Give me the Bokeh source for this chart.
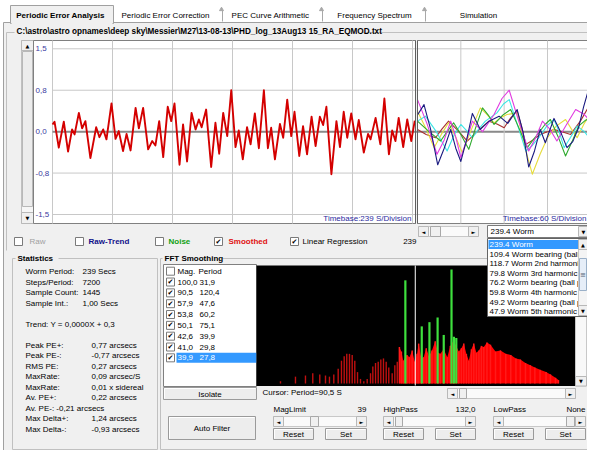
from bokeh.plotting import figure
from bokeh.plotting.glyph_api import GlyphAPI
from bokeh.models import Range1d, LogScale, LinearScale
from bokeh.models.coordinates import CoordinateMapping
from bokeh.core.properties import value
from bokeh.embed import file_html
from bokeh.resources import INLINE

# ---------------- data ----------------
# smoothed periodic error (time s, arcsec)
pe_time = [0, 8, 25, 45, 62, 78, 88, 105, 118, 131, 151, 174, 187, 202, 215, 235, 251, 264, 281, 295,
           311, 331, 344, 361, 381, 397, 410, 425, 441, 459, 473, 486, 506, 520, 536, 554, 570, 583, 594, 612,
           632, 649, 664, 680, 696, 712, 729, 742, 758, 775, 789, 806, 822, 842, 858, 871, 886, 906, 919, 935,
           951, 964, 983, 998, 1014, 1032, 1048, 1065, 1078, 1091, 1111, 1131, 1145, 1160, 1174, 1190, 1207, 1220, 1240, 1257,
           1267, 1287, 1306, 1322, 1340, 1353, 1366, 1379, 1397, 1413, 1429, 1443]
pe_value = [0.13, 0.18, -0.29, 0.18, -0.36, 0.04, -0.05, 0.34, 0.06, 0.19, -0.48, 0.08, -0.10, 0.04, -0.14, 0.51, -0.13, 0.01, -0.35, -0.04,
            -0.34, 0.43, 0.06, 0.43, -0.32, -0.17, -0.25, 0.19, -0.46, 0.45, 0.19, 0.51, -0.60, 0.13, -0.54, 0.34, 0.04, 0.22, 0.08, 0.40,
            -0.64, 0.16, -0.40, 0.34, -0.08, 0.75, -0.28, 0.02, -0.50, 0.08, -0.23, 0.33, -0.30, 0.75, -0.30, 0.07, -0.50, 0.14, -0.11, 0.58,
            -0.08, 0.36, -0.44, 0.10, -0.41, 0.27, -0.26, 0.27, 0.12, 0.45, -0.77, 0.19, -0.28, 0.36, -0.11, 0.33, -0.14, 0.21, -0.38, -0.04,
            -0.14, 0.25, -0.23, 0.60, -0.41, 0.02, -0.17, 0.25, -0.28, 0.22, -0.17, 0.20]

main_timebase = 239      # s / division
sample_count = 1445
worm_timebase = 60
worm_period = 240
y_ticks = [1.5, 0.75, 0.0, -0.75, -1.5]
y_tick_labels = ["1,5", "0,8", "0,0", "-0,8", "-1,5"]

# worm-period overlays (time s, arcsec)
navy_t = [0, 9, 18, 28, 37, 46, 53, 60, 68, 76, 87, 99, 113, 125, 138, 146, 154, 162, 170, 177, 189, 198, 207, 215, 223, 230, 237]
navy_v = [0.30, 0.49, 0.05, -0.60, -0.30, 0.04, -0.30, -0.54, -0.15, 0.33, 0.04, 0.19, 0.28, 0.15, 0.40, 0.0, -0.64, -0.35, 0.04, -0.20, 0.24, 0.0, -0.29, -0.18, 0.07, 0.45, 0.77]
magenta_t = [0, 13, 27, 37, 46, 53, 60, 68, 76, 90, 106, 117, 127, 140, 154, 164, 173, 183, 193, 206, 219, 230, 240]
magenta_v = [0.58, 0.15, -0.41, -0.15, 0.19, -0.10, -0.47, -0.15, 0.19, 0.0, 0.31, 0.60, 0.75, 0.20, -0.35, -0.10, 0.19, 0.05, -0.17, 0.12, 0.40, 0.32, 0.19]
cyan_t = [0, 11, 26, 41, 51, 60, 68, 76, 85, 94, 110, 119, 127, 139, 150, 159, 168, 179, 189, 196, 203, 212, 221, 231, 240]
cyan_v = [0.19, 0.28, 0.0, -0.35, -0.05, 0.13, 0.02, -0.11, 0.05, 0.19, 0.34, 0.50, 0.58, 0.10, -0.35, -0.25, -0.11, 0.10, 0.22, 0.0, -0.29, -0.10, 0.10, 0.0, -0.14]
yellow_t = [0, 12, 23, 33, 43, 53, 62, 75, 87, 97, 106, 115, 124, 138, 148, 159, 170, 180, 192, 205, 213, 221, 231, 240]
yellow_v = [0.37, 0.05, -0.29, -0.05, 0.16, -0.10, -0.38, 0.05, 0.43, 0.30, 0.16, 0.25, 0.31, 0.34, -0.25, -0.77, -0.40, -0.11, 0.10, 0.22, 0.05, -0.11, 0.15, 0.34]
green_t = [0, 16, 32, 41, 50, 60, 71, 80, 90, 98, 106, 118, 129, 141, 152, 160, 168, 176, 184, 195, 205, 214, 223, 232, 240]
green_v = [0.19, 0.0, -0.17, 0.0, 0.16, -0.05, -0.32, 0.05, 0.43, 0.30, 0.13, 0.30, 0.40, 0.05, -0.29, -0.15, -0.02, 0.12, 0.22, -0.10, -0.44, -0.18, 0.10, 0.20, 0.25]
brown_t = [0, 12, 25, 34, 43, 56, 69, 84, 99, 110, 120, 129, 138, 144, 150, 160, 170, 180, 189, 200, 212, 226, 240]
brown_v = [0.04, -0.05, -0.11, 0.05, 0.19, 0.02, -0.17, 0.02, 0.19, 0.14, 0.07, 0.25, 0.37, 0.10, -0.23, -0.15, -0.05, 0.0, 0.04, 0.0, -0.05, 0.20, 0.52]

# FFT table (magnitude %, period s)
fft_mag = [100.0, 90.5, 57.9, 53.8, 50.1, 42.6, 41.0, 39.9]
fft_period = [31.9, 120.4, 47.6, 60.2, 75.1, 39.9, 29.8, 27.8]
cursor_period = 90.5

# spectrum (period s, magnitude %)
spec_period = [4378, 2844, 2133, 1729, 1413, 1199, 1069, 944, 832, 757, 700, 650, 601, 556, 516, 477, 438, 398,
               361, 328, 307, 284, 263, 244, 226, 209, 194, 176, 163, 152]
spec_mag = [2, 6, 7, 9, 8, 7, 6, 8, 13, 20, 24, 26, 26, 25, 20, 10, 4, 2,
            4, 9, 15, 18, 19, 21, 22, 19, 14, 9, 16, 19]
dense_period = [143, 135, 128, 115, 107, 99, 92, 86, 82, 76, 71, 66, 61, 56, 51, 47, 44, 40, 36, 33, 30,
                25.9, 24.0, 22.4, 20.8, 19.4, 18.0, 16.8, 15.6, 14.5, 13.5, 12.6, 11.5, 10.4, 9.0, 7.8,
                6.7, 5.8, 5.0, 4.4, 3.8, 3.3, 2.9, 2.5, 2.1, 1.85, 1.6, 1.47]
dense_mag = [32, 28, 20, 25, 23, 29, 19, 26, 35, 22, 23, 31, 24, 29, 37, 27, 26, 30, 23, 33, 38,
             28, 31, 35, 26, 20, 30, 35, 27, 29, 33, 32, 36, 34, 28, 29,
             26, 25, 22, 21, 18, 16, 14, 12, 10, 8, 5, 3]

stat_labels = ["Worm Period:", "Steps/Period:", "Sample Count:", "Sample Int.:"]
stat_values = ["239 Secs", "7200", "1445", "1,00 Secs"]
trend_text = "Trend: Y = 0,0000X + 0,3"
pe_labels = ["Peak PE+:", "Peak PE-:", "RMS PE:", "MaxRate:", "MaxRate:", "Av. PE+:"]
pe_values = ["0,77 arcsecs", "-0,77 arcsecs", "0,27 arcsecs", "0,09 arcsec/S", "0,01 x sidereal", "0,22 arcsecs"]
avpe_minus = "Av. PE-:  -0,21 arcsecs"
delta_labels = ["Max Delta+:", "Max Delta-:"]
delta_values = ["1,24 arcsecs", "-0,93 arcsecs"]

worm_items = ["239.4 Worm", "109.4 Worm bearing (ball s", "118.7 Worm 2nd harmonic", "79.8 Worm 3rd harmonic",
              "76.2 Worm bearing (ball pa", "59.8 Worm 4th harmonic", "49.2 Worm bearing (ball pa", "47.9 Worm 5th harmonic"]
tabs = ["Periodic Error Analysis", "Periodic Error Correction", "PEC Curve Arithmetic", "Frequency Spectrum", "Simulation"]
file_path = "C:\\astro\\astro opnames\\deep sky\\Messier\\M27\\13-08-13\\PHD_log_13Aug13 15_RA_EQMOD.txt"

FONT = "Liberation Sans"
SYM = "DejaVu Sans"
GRAY = "#f0f0f0"

# ---------------- canvas (screen pixel coordinates) ----------------
p = figure(width=587, height=450, x_range=Range1d(0, 587), y_range=Range1d(450, 0),
           x_axis_type=None, y_axis_type=None, output_backend="svg", toolbar_location=None,
           min_border=0)
p.grid.visible = False
p.outline_line_color = None
p.background_fill_color = "white"
p.border_fill_color = "white"


def sub(xs, xt, ys, yt, xscale=None):
    cm = CoordinateMapping(x_source=xs, y_source=ys, x_target=xt, y_target=yt,
                           x_scale=xscale if xscale is not None else LinearScale(), y_scale=LinearScale())
    return GlyphAPI(p, cm)


def box(l, r, t, b, fill=GRAY, line=None, lw=1, alpha=1):
    p.quad(left=[l], right=[r], top=[t], bottom=[b], fill_color=fill, line_color=line, line_width=lw,
           fill_alpha=alpha)


def hline(x0, x1, y, color="#a0a0a0", lw=1):
    p.segment(x0=[x0], x1=[x1], y0=[y], y1=[y], line_color=color, line_width=lw)


def vline(x, y0, y1, color="#a0a0a0", lw=1):
    p.segment(x0=[x], x1=[x], y0=[y0], y1=[y1], line_color=color, line_width=lw)


def txt(x, y, s, size="8px", color="black", bold=False, align="left", font=FONT):
    p.text(x=[x], y=[y], text=[s], text_font=value(font), text_font_size=size, text_color=color,
           text_font_style="bold" if bold else "normal", text_align=align, text_baseline="middle")


def button(l, r, t, b, label):
    box(l, r, t, b, fill="#ededed", line="#9a9a9a")
    hline(l + 1, r - 1, t + 1, "white")
    vline(l + 1, t + 1, b - 1, "white")
    txt((l + r) / 2, (t + b) / 2 + 0.5, label, align="center")


def arrow_btn(l, r, t, b, ch):
    box(l, r, t, b, fill="#f0f0f0", line="#b8b8b8")
    txt((l + r) / 2, (t + b) / 2, ch, size="5px", align="center", font=SYM)


def hscroll(l, r, t, b, tl, tr):
    box(l, r, t, b, fill="#fafafa", line="#c8c8c8")
    arrow_btn(l, l + 10, t, b, "◄")
    arrow_btn(r - 10, r, t, b, "►")
    box(tl, tr, t, b, fill="#f0f0f0", line="#a8a8a8")


def checkbox(x, y, checked):
    box(x, x + 8, y - 4, y + 4, fill="white", line="#7a7a7a")
    if checked:
        txt(x + 4, y, "✔", size="7px", align="center", font=SYM)


# window background
box(3, 600, 22, 455, fill=GRAY, line="#a0a0a0")

# tabs
box(10, 113, 5, 23, fill=GRAY, line="#a0a0a0")
hline(11, 112, 22.5, GRAY, 2)
tab_x = [60, 165, 270, 374, 478]
for i, (tx, name) in enumerate(zip(tab_x, tabs)):
    txt(tx, 15, name, bold=(i == 0), align="center")
for sx in [222, 322, 425]:
    vline(sx, 9, 21, "#a8a8a8")
    p.scatter([sx - 1], [9], marker="triangle", size=4, color="#a8a8a8")

# chart group box
hline(6, 14, 32, "#c0c0c0")
hline(362, 597, 32, "#c0c0c0")
vline(6, 32, 250, "#c0c0c0")
txt(16, 31, file_path, bold=True, size="8.2px")

# vertical scrollbar left of chart
box(21, 33, 40, 223, fill="#f6f6f6", line="#c0c0c0")
arrow_btn(21, 33, 40, 50, "▲")
arrow_btn(21, 33, 212, 223, "▼")
box(22, 32, 51, 206, fill="#ececec", line="#b8b8b8")

# chart backgrounds
box(33, 415, 40, 223, fill="white", line="#808080")
box(417, 591, 40, 223, fill="white", line="#808080")

# ---------- main PE chart (sub-coordinates) ----------
main_xt = 52 + sample_count * 60 / main_timebase
main = sub(Range1d(0, sample_count), Range1d(52, main_xt), Range1d(-1.5, 1.5), Range1d(214, 48.3))
main_xpix = sub(Range1d(0, sample_count), Range1d(52, main_xt), Range1d(0, 1), Range1d(0, 1))
main_ypix = sub(Range1d(0, 1), Range1d(0, 1), Range1d(-1.5, 1.5), Range1d(214, 48.3))
grid_t = [k * main_timebase for k in range(7)]
main_xpix.segment(x0=grid_t, x1=grid_t, y0=[40] * 7, y1=[223] * 7, line_color="#c8c8c8", line_width=1)
main_ypix.segment(x0=[52] * 5, x1=[591] * 5, y0=y_ticks, y1=y_ticks, line_color="#c8c8c8", line_width=1)
main_ypix.text(x=[35] * 5, y=y_ticks, text=y_tick_labels, text_font=value(FONT), text_font_size="8px",
               text_color="#3a3aa0", text_baseline="middle")
main_ypix.segment(x0=[52], x1=[591], y0=[0], y1=[0], line_color="#8a8a8a", line_width=2)
main.line(pe_time, pe_value, line_color="#d40000", line_width=1.9, line_join="round")

# ---------- worm overlay chart ----------
worm_xt = 417 + worm_period * 43.33 / worm_timebase
worm = sub(Range1d(0, worm_period), Range1d(417, worm_xt), Range1d(-1.5, 1.5), Range1d(214, 48.3))
worm_xpix = sub(Range1d(0, worm_period), Range1d(417, worm_xt), Range1d(0, 1), Range1d(0, 1))
wg = [worm_timebase * k for k in range(1, 4)]
worm_xpix.segment(x0=wg, x1=wg, y0=[40] * 3, y1=[223] * 3, line_color="#c8c8c8", line_width=1)
for tt, vv, c in [(brown_t, brown_v, "#a83232"), (yellow_t, yellow_v, "#e6dc3c"), (cyan_t, cyan_v, "#3ce6e6"),
                  (green_t, green_v, "#2eaa2e"), (magenta_t, magenta_v, "#e03ce0"), (navy_t, navy_v, "#1a1a80")]:
    worm.line(tt, vv, line_color=c, line_width=1.1, line_join="round")

vline(415, 40, 223, "#606060")
vline(417, 40, 223, "#606060")
txt(411, 218, f"Timebase:{main_timebase} S/Division", color="#2a2aa0", align="right")
txt(586, 218, f"Timebase:{worm_timebase} S/Division", color="#2a2aa0", align="right")

# worm scrollbar + combo
hscroll(418, 478, 226, 236, 430, 440)
box(487, 590, 225, 237, fill="white", line="#7a7a7a")
txt(490, 231, worm_items[0])
arrow_btn(578, 588, 226, 236, "▼")
txt(416, 241, "239", align="right")

# check row
checkbox(14, 241, False); txt(29, 241, "Raw", color="#a0a0a0")
checkbox(75, 241, False); txt(88, 241, "Raw-Trend", color="#10108a", bold=True)
checkbox(155, 241, False); txt(168, 241, "Noise", color="#10a010", bold=True)
checkbox(214, 241, True); txt(228, 241, "Smoothed", color="#e01010", bold=True)
checkbox(290, 241, True); txt(302, 241, "Linear Regression")

# ---------- statistics group ----------
p.quad(left=[12], right=[157], top=[258], bottom=[449], fill_color=None, line_color="#c0c0c0")
box(15, 58, 253, 263, fill=GRAY)
txt(17, 258, "Statistics", bold=True)
s = 10.5
for i, (lab, val) in enumerate(zip(stat_labels, stat_values)):
    txt(25, 271 + i * s, lab)
    txt(82, 271 + i * s, val)
txt(25, 271 + 5 * s, trend_text)
for i, (lab, val) in enumerate(zip(pe_labels, pe_values)):
    txt(25, 271 + (7 + i) * s, lab)
    txt(91, 271 + (7 + i) * s, val)
txt(25, 271 + 13 * s, avpe_minus)
for i, (lab, val) in enumerate(zip(delta_labels, delta_values)):
    txt(25, 271 + (14 + i) * s, lab)
    txt(91, 271 + (14 + i) * s, val)

# ---------- FFT group ----------
p.quad(left=[160], right=[591], top=[258], bottom=[449], fill_color=None, line_color="#c0c0c0")
box(162, 222, 253, 263, fill=GRAY)
txt(164, 258, "FFT Smoothing", bold=True)

box(163, 256, 264, 386, fill="white", line="#808080")
checkbox(166, 270.7, False)
txt(177, 270.7, "Mag.")
txt(198, 270.7, "Period")
rs = 10.83
box(176, 256, 270.7 + 8 * rs - 5, 270.7 + 8 * rs + 5, fill="#3399ff")
for i, (m, per) in enumerate(zip(fft_mag, fft_period)):
    yy = 270.7 + (i + 1) * rs
    checkbox(166, yy, True)
    col = "white" if i == len(fft_mag) - 1 else "black"
    txt(177, yy, f"{m:.1f}".replace(".", ","), color=col)
    txt(199, yy, f"{per:.1f}".replace(".", ","), color=col)
button(163, 256, 387, 399, "Isolate")

# spectrum (log period axis)
box(256, 575, 265, 385.5, fill="black", line=None)
spec = sub(Range1d(8730, 0.9), Range1d(256, 575), Range1d(0, 100), Range1d(383, 269), xscale=LogScale())
spec_ypix = sub(Range1d(8730, 0.9), Range1d(256, 575), Range1d(0, 1), Range1d(0, 1), xscale=LogScale())
spec.varea(x=dense_period, y1=[0] * len(dense_period), y2=dense_mag, fill_color="#ff0000")
spec.segment(x0=spec_period, x1=spec_period, y0=[0] * len(spec_period), y1=spec_mag,
             line_color="#c01010", line_width=1.4)
spec.segment(x0=dense_period, x1=dense_period, y0=[0] * len(dense_period), y1=dense_mag,
             line_color="#ff1a1a", line_width=1.5)
spec.segment(x0=fft_period, x1=fft_period, y0=[0] * len(fft_period), y1=fft_mag,
             line_color="#3ee03e", line_width=2.2)
spec_ypix.segment(x0=[cursor_period], x1=[cursor_period], y0=[265], y1=[385],
                  line_color="white", line_width=1)
# spectrum side scrollbar
box(575, 586, 265, 385.5, fill="#f8f8f8", line="#c8c8c8")
arrow_btn(575, 586, 376, 385.5, "▼")
txt(262, 392, f"Cursor: Period={cursor_period:.1f} S".replace(".", ","))
hscroll(447, 575, 388, 398, 459, 466)

# dropdown list (overlaps the spectrum)
box(487, 590, 238, 316, fill="white", line="#646464")
box(488, 578, 239.5, 248.5, fill="#3399ff")
for i, it in enumerate(worm_items):
    txt(489, 244 + i * 9.6, it, color="white" if i == 0 else "black")
box(578, 587, 239, 315, fill="#f4f4f4", line="#c8c8c8")
arrow_btn(578, 587, 239, 249, "▲")
arrow_btn(578, 587, 305, 315, "▼")
box(579, 586, 258, 290, fill="#e6eef8", line="#9ab0c8")
txt(582.5, 274, "≡", size="7px", align="center", font=SYM, color="#506070")

# bottom controls
button(168, 255, 416, 439, "Auto Filter")
txt(273, 409, "MagLimit"); txt(366, 409, "39", align="right")
hscroll(273, 366, 416, 426, 310, 318)
button(273, 313, 428, 439, "Reset"); button(325, 366, 428, 439, "Set")
txt(383, 409, "HighPass"); txt(475, 409, "132,0", align="right")
hscroll(383, 475, 416, 426, 395, 402)
button(383, 423, 428, 439, "Reset"); button(435, 475, 428, 439, "Set")
txt(493, 409, "LowPass"); txt(585, 409, "None", align="right")
hscroll(493, 585, 416, 426, 566, 574)
button(493, 533, 428, 439, "Reset"); button(545, 585, 428, 439, "Set")

open("out.html", "w").write(file_html(p, INLINE))
